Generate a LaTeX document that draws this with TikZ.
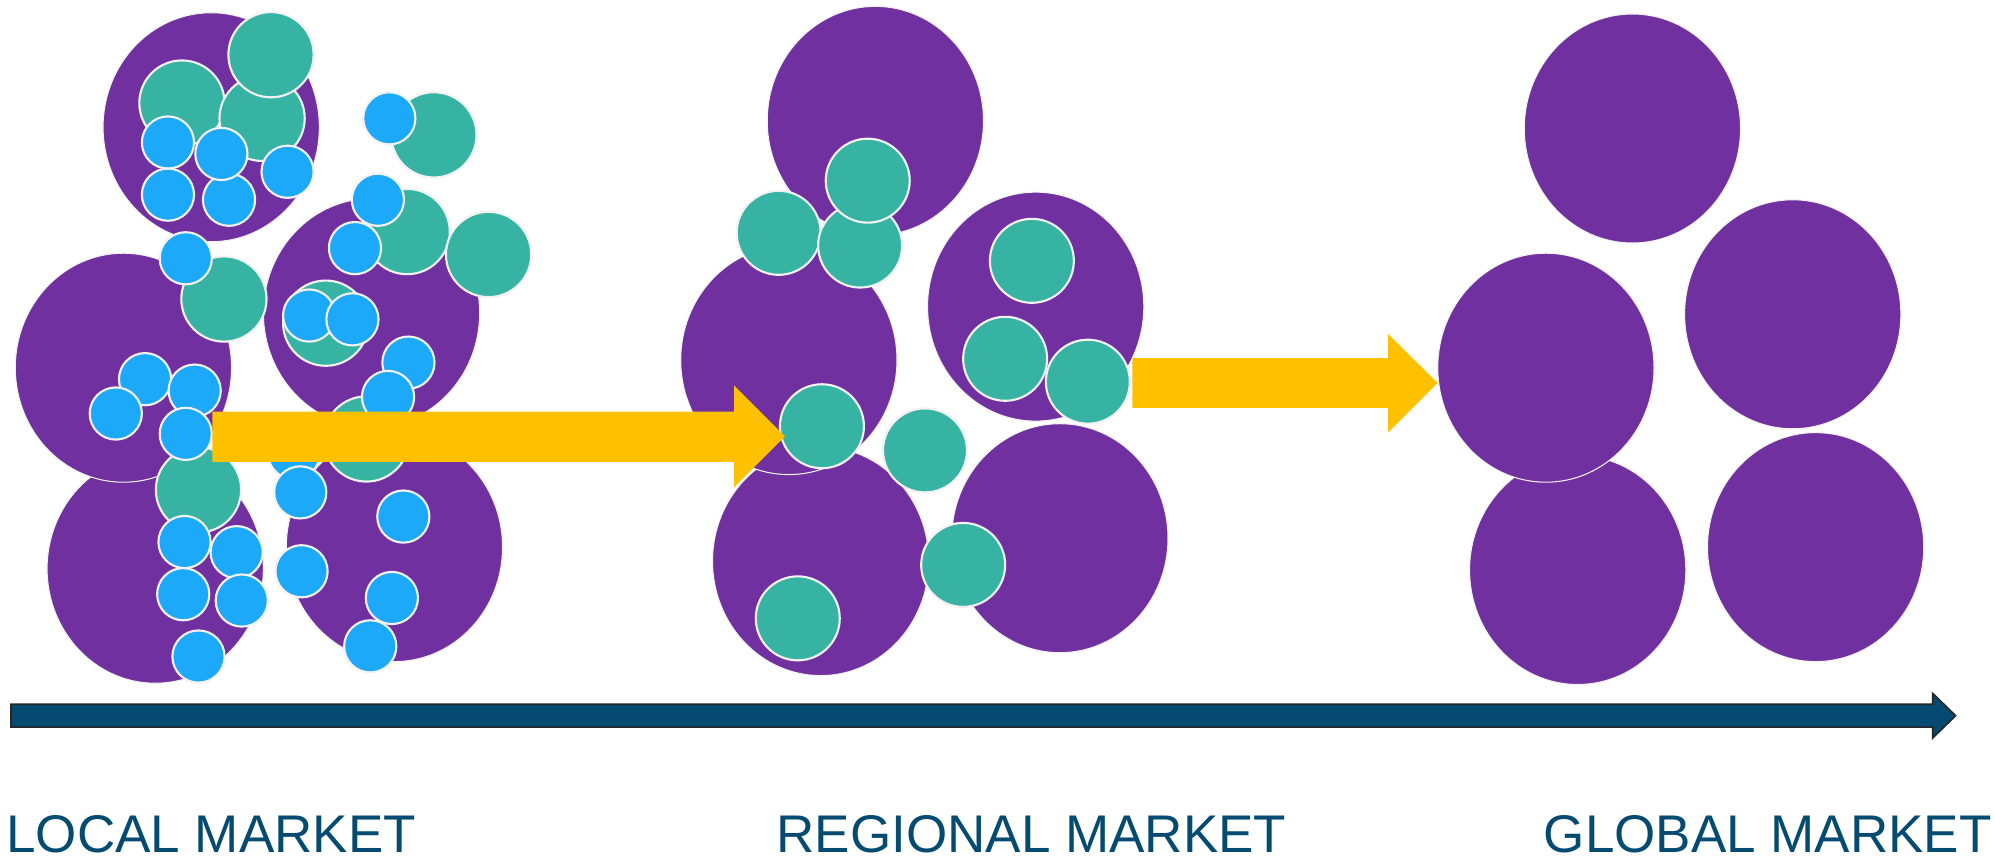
\documentclass[tikz,border=0pt]{standalone}
\usepackage{fontspec}
\setmainfont{Liberation Sans}
\definecolor{pur}{HTML}{7030A0}
\definecolor{tea}{HTML}{36B3A3}
\definecolor{blu}{HTML}{1CA9F9}
\definecolor{yel}{HTML}{FFC000}
\definecolor{nav}{HTML}{054B71}
\definecolor{rim}{HTML}{F2F2F2}
\begin{document}
\begin{tikzpicture}[x=0.6pt,y=-0.6pt,
  market/.style={fill=pur, draw=rim, line width=0.5pt},
  firm/.style={fill=tea, draw=rim, line width=1pt},
  small/.style={fill=blu, draw=rim, line width=1pt},
  growth/.style={fill=yel},
  axis/.style={fill=nav, draw=black!85, line width=0.8pt},
  label/.style={anchor=base west, inner sep=0pt, text depth=0pt, text=nav, font=\fontsize{25}{30}\selectfont}]
\useasboundingbox (0,0) rectangle (1568,675);
% ---------- local market ----------
\foreach \x/\y in {122/447, 310/430, 97/289, 166/100, 292/246}
  \draw[market] (\x,\y) ellipse [x radius=85, y radius=90];
\foreach \x/\y in {143/81, 206/93, 213/43, 341/106, 320/182, 384/200, 176/235, 256/254, 288/345, 156/385}
  \draw[firm] (\x,\y) circle [radius=33.5];
\foreach \x/\y in {306/93, 132/112, 180/157, 174/121, 226/135, 132/153, 297/157, 279/195, 146/203,
                   243/248, 277/251, 321/285, 114/298, 153/307, 91/325, 305/312, 146/341, 231/356,
                   236/387, 317/406, 145/426, 186/434, 237/449, 144/467, 190/472, 308/470, 156/516, 291/508}
  \draw[small] (\x,\y) circle [radius=20.5];
% ---------- regional market ----------
\foreach \x/\y in {688/95, 645/441, 620/283, 833/423, 814/241}
  \draw[market] (\x,\y) ellipse [x radius=85, y radius=90];
\foreach \x/\y in {612/183, 676/193, 682/142, 811/205, 790/282, 855/300, 646/335, 727/354, 757/444, 627/486}
  \draw[firm] (\x,\y) circle [radius=33];
% ---------- global market ----------
\foreach \x/\y in {1283/101, 1409/247, 1427/430, 1240/448, 1215/289}
  \draw[market] (\x,\y) ellipse [x radius=85, y radius=90];
% ---------- growth arrows ----------
\fill[growth] (167,323.5) -- (577,323.5) -- (577,303) -- (617,343) -- (577,383) -- (577,363) -- (167,363) -- cycle;
\fill[growth] (890,281.5) -- (1091,281.5) -- (1091,262.5) -- (1130,301) -- (1091,340) -- (1091,320.5) -- (890,320.5) -- cycle;
% ---------- axis ----------
\draw[axis] (8.6,553.5) -- (1519,553.5) -- (1519,545) -- (1537,562.5) -- (1519,580) -- (1519,571.5) -- (8.6,571.5) -- cycle;
% ---------- labels ----------
\node[label] (local) at (4.7,670) {LOCAL MARKET};
\node[label] (regional) at (610,670) {REGIONAL MARKET};
\node[label] (global) at (1213,670) {GLOBAL MARKET};
\end{tikzpicture}
\end{document}
